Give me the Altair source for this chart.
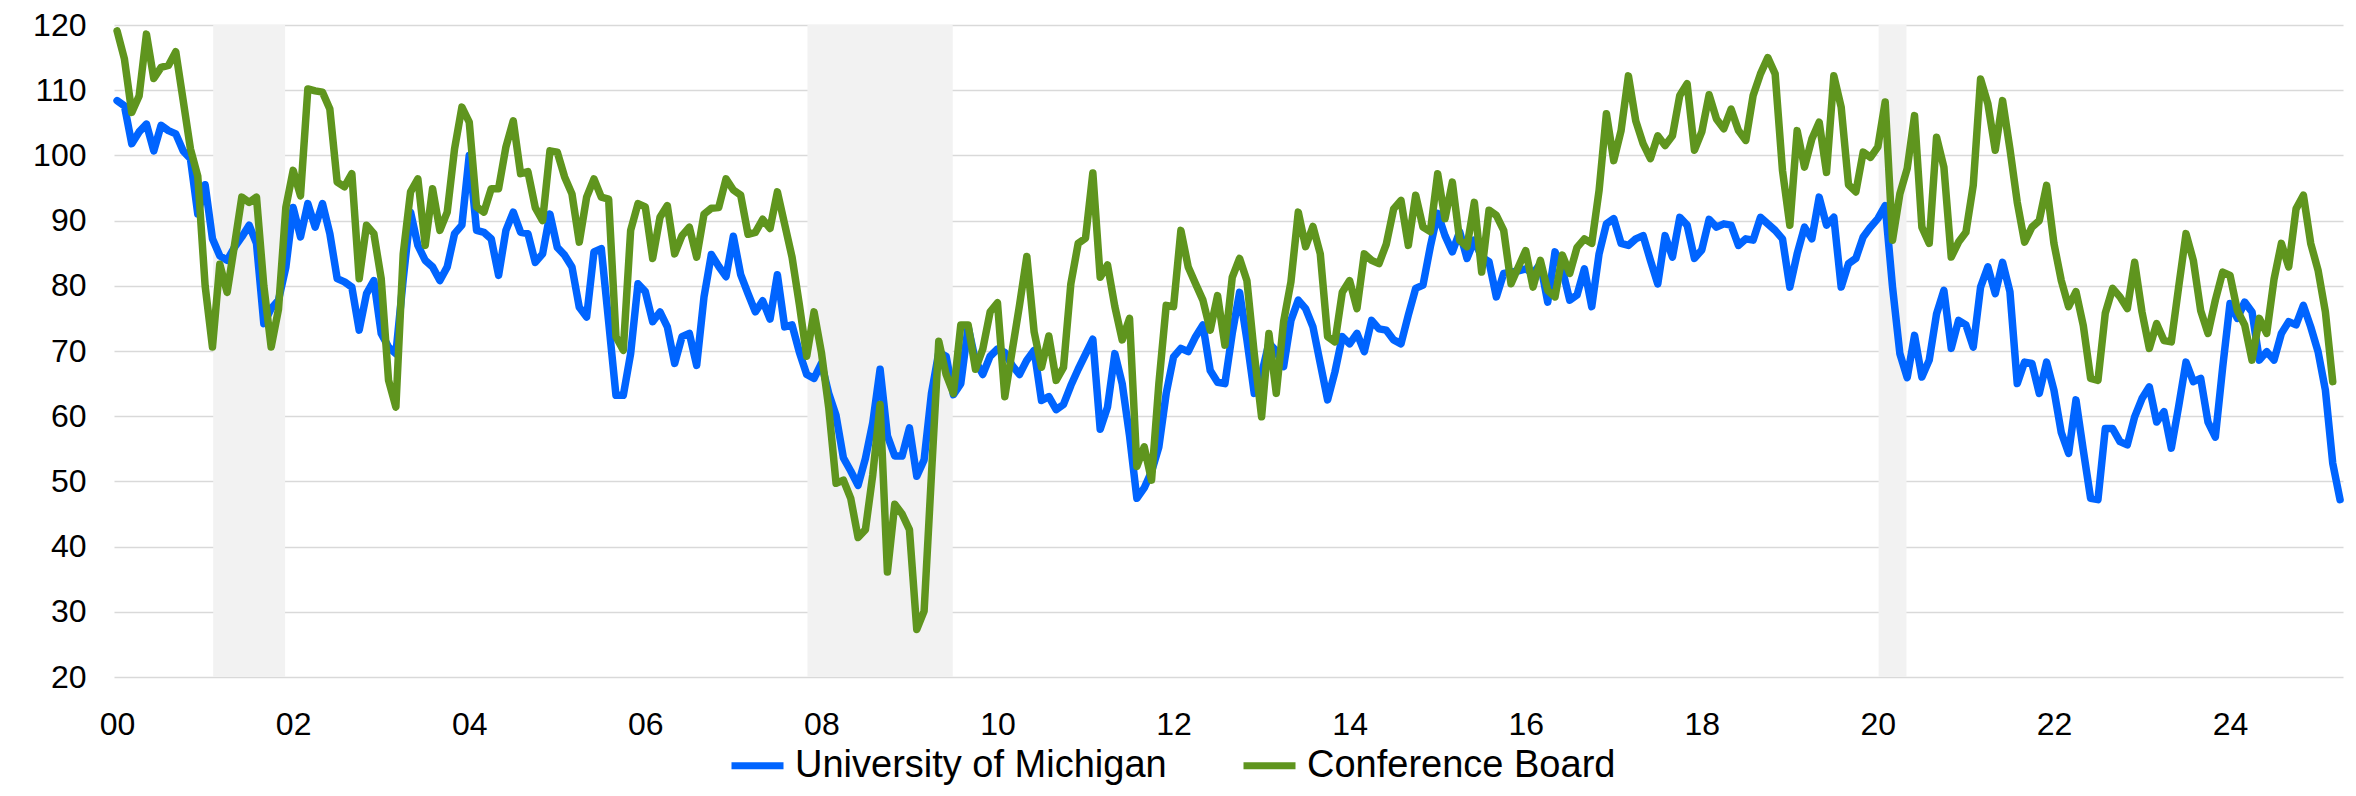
import altair as alt
import pandas as pd

START_YEAR = 2000

# Monthly values from Jan 2000
michigan = [
    108.4, 107.6, 101.8, 103.6, 104.8, 100.7, 104.6, 103.8, 103.3, 100.7, 99.5, 91.0,
    95.5, 87.2, 84.6, 83.9, 85.9, 87.5, 89.3, 86.5, 74.2, 76.5, 77.8, 82.8,
    92.0, 87.5, 92.6, 89.0, 92.6, 88.0, 81.1, 80.6, 79.8, 73.2, 78.8, 80.8,
    72.7, 70.6, 69.6, 81.0, 91.3, 86.2, 83.9, 82.9, 80.8, 82.9, 88.0, 89.3,
    100.0, 88.5, 88.2, 87.2, 81.6, 88.5, 91.3, 88.2, 88.0, 83.6, 84.9, 91.0,
    85.9, 84.7, 82.9, 76.7, 75.2, 85.2, 85.7, 74.5, 63.2, 63.2, 69.6, 80.3,
    79.1, 74.5, 76.0, 73.7, 68.1, 72.2, 72.7, 67.8, 78.3, 84.8, 83.0, 81.4,
    87.6, 81.7, 78.8, 76.0, 77.7, 74.9, 81.7, 73.7, 74.0, 69.8, 66.4, 65.8,
    68.1, 63.5, 60.1, 53.6, 51.6, 49.4, 53.5, 59.0, 67.2, 57.0, 53.9, 53.9,
    58.2, 50.8, 53.3, 63.5, 69.8, 69.2, 63.3, 65.0, 73.7, 68.5, 66.4, 69.2,
    70.3, 69.8, 67.8, 66.4, 68.6, 70.1, 62.4, 63.0, 61.0, 61.8, 64.7, 67.2,
    69.5, 71.8, 58.0, 61.4, 69.6, 65.0, 57.0, 47.4, 49.0, 51.5, 55.3, 63.5,
    69.1, 70.4, 69.9, 72.2, 74.0, 67.0, 65.2, 65.0, 72.7, 79.0, 71.7, 63.5,
    66.5, 71.2, 70.0, 67.6, 74.7, 77.8, 76.5, 73.7, 68.1, 62.5, 66.8, 72.2,
    71.1, 72.7, 69.9, 74.7, 73.4, 73.2, 71.7, 71.1, 75.5, 79.6, 80.1, 86.0,
    91.1, 87.7, 85.2, 88.3, 84.2, 87.0, 84.4, 83.7, 78.3, 81.9, 82.1, 82.3,
    82.6, 81.9, 83.4, 77.5, 85.2, 82.5, 77.8, 78.6, 82.6, 76.8, 84.9, 89.5,
    90.3, 86.5, 86.2, 87.2, 87.7, 83.9, 80.3, 87.7, 84.4, 90.5, 89.3, 84.2,
    85.5, 90.2, 89.0, 89.5, 89.3, 86.2, 87.2, 87.0, 90.5, 89.5, 88.5, 87.2,
    79.8, 84.9, 89.0, 87.2, 93.6, 89.3, 90.5, 79.8, 83.4, 84.2, 87.5, 89.0,
    90.3, 92.3, 79.8, 69.6, 65.9, 72.4, 66.0, 68.6, 75.7, 79.3, 70.4, 74.7,
    74.0, 70.6, 79.8, 82.9, 78.8, 83.6, 79.1, 65.0, 68.3, 68.1, 63.5, 68.3,
    64.0, 57.5, 54.3, 62.5, 54.8, 47.4, 47.2, 58.1, 58.1, 56.1, 55.6, 59.9,
    62.7, 64.5, 59.1, 60.7, 55.1, 61.5, 68.3, 65.3, 65.8, 59.1, 56.8, 67.5,
    77.3, 75.0, 77.5, 76.0, 68.6, 69.9, 68.6, 72.7, 74.5, 74.0, 77.0, 73.7,
    69.9, 64.0, 52.8, 47.2,
]

conference = [
    119.1, 114.8, 106.6, 109.1, 118.6, 111.8, 113.5, 113.8, 115.9, 108.5, 101.0, 96.8,
    80.0, 70.6, 83.3, 79.0, 86.2, 93.6, 92.8, 93.6, 80.0, 70.6, 76.4, 92.0,
    97.7, 93.8, 110.2, 109.9, 109.7, 107.1, 95.9, 95.2, 97.2, 81.1, 89.3, 88.0,
    81.1, 65.5, 61.4, 84.9, 94.4, 96.4, 86.2, 94.9, 88.5, 91.3, 101.0, 107.4,
    105.1, 92.1, 91.3, 94.9, 94.9, 101.3, 105.3, 97.2, 97.5, 92.0, 90.0, 100.7,
    100.5, 96.7, 94.1, 86.7, 93.6, 96.4, 93.6, 93.3, 72.2, 70.1, 88.5, 92.6,
    92.1, 84.2, 90.5, 92.3, 84.9, 87.7, 89.0, 84.4, 91.0, 91.9, 92.0, 96.4,
    94.7, 93.9, 87.9, 88.2, 90.2, 88.8, 94.4, 89.4, 84.4, 77.1, 69.2, 76.0,
    69.8, 61.3, 49.7, 50.2, 47.4, 41.4, 42.6, 51.0, 61.8, 36.1, 46.5, 45.0,
    42.6, 27.3, 30.1, 51.0, 71.5, 66.4, 63.5, 74.0, 74.0, 67.2, 70.3, 76.0,
    77.4, 63.0, 70.0, 77.0, 84.5, 72.9, 67.5, 72.3, 65.5, 67.5, 80.3, 86.5,
    87.3, 97.3, 81.3, 83.2, 76.8, 71.7, 75.0, 52.3, 55.3, 50.2, 65.0, 77.0,
    76.8, 88.5, 82.9, 80.3, 77.8, 73.2, 78.5, 70.9, 81.3, 84.2, 80.8, 69.6,
    59.9, 72.7, 63.5, 74.5, 80.6, 91.3, 86.0, 89.1, 84.9, 72.2, 71.4, 79.0,
    80.8, 76.5, 84.9, 83.9, 83.4, 86.4, 91.8, 93.1, 86.2, 93.9, 89.0, 88.3,
    97.2, 90.3, 95.9, 87.0, 86.0, 92.8, 82.1, 91.6, 90.8, 88.5, 80.3, 82.9,
    85.4, 79.8, 83.9, 79.3, 78.3, 84.7, 81.9, 85.9, 87.2, 86.5, 94.6, 106.4,
    99.2, 103.8, 112.2, 105.3, 101.8, 99.5, 103.0, 101.5, 103.0, 109.2, 111.0, 100.8,
    103.6, 109.3, 105.6, 104.1, 107.1, 103.8, 102.3, 109.2, 112.5, 115.0, 112.5, 97.7,
    89.3, 103.8, 98.2, 102.5, 105.1, 97.4, 112.2, 107.4, 95.5, 94.4, 100.5, 99.7,
    101.3, 108.2, 87.0, 94.1, 98.0, 106.1, 89.0, 86.5, 102.8, 98.2, 84.4, 86.7,
    88.2, 95.4, 111.7, 107.9, 100.8, 108.4, 101.0, 92.8, 86.7, 89.0, 90.0, 95.4,
    86.5, 80.8, 76.8, 79.1, 73.9, 65.8, 65.5, 75.8, 79.6, 78.3, 76.5, 83.6,
    76.0, 70.4, 74.2, 71.6, 71.4, 79.8, 88.0, 83.9, 76.2, 72.7, 77.8, 82.1,
    81.6, 76.2, 74.0, 68.6, 75.0, 72.7, 81.0, 86.5, 82.9, 91.8, 93.9, 86.5,
    82.4, 76.0, 65.3,
]

series_names = ["University of Michigan", "Conference Board"]
series_colors = ["#0064FF", "#5F951E"]

# NBER recessions (first and last month)
rec_start = ["2001-03", "2007-12", "2020-02"]
rec_end = ["2001-11", "2009-06", "2020-04"]

tick_years = list(range(2000, 2025, 2))
y_ticks = list(range(20, 121, 10))


def month_index(s):
    y, m = s.split("-")
    return (int(y) - START_YEAR) * 12 + int(m) - 1


rows = []
for name, vals in zip(series_names, [michigan, conference]):
    for i, v in enumerate(vals):
        rows.append({"m": i, "v": v, "series": name})
df = pd.DataFrame(rows)

rec = pd.DataFrame({
    "x0": [month_index(s) - 0.9 for s in rec_start],
    "x1": [month_index(e) + 0.9 for e in rec_end],
})

W, H = 2229, 652
FONT = "Liberation Sans"

xs = alt.Scale(domain=[-0.42, 303.4], nice=False, zero=False)
ys = alt.Scale(domain=[20, 120], nice=False, zero=False)

x_axis = alt.Axis(
    values=[(y - START_YEAR) * 12 for y in tick_years],
    labelExpr="format(datum.value / 12, '02d')",
    grid=False, ticks=False, domain=False,
    labelFont=FONT, labelFontSize=32, labelColor="#000000",
    labelPadding=32, labelFlush=False, labelOverlap=False, title=None,
)
y_axis = alt.Axis(
    values=y_ticks, grid=True, gridColor="#D9D9D9", gridWidth=1.5,
    ticks=False, domain=False,
    labelFont=FONT, labelFontSize=32, labelColor="#000000",
    labelPadding=28, labelFlush=False, labelOverlap=False, title=None,
)

color = alt.Color(
    "series:N",
    scale=alt.Scale(domain=series_names, range=series_colors),
    legend=alt.Legend(
        orient="none", legendX=614, legendY=711, direction="horizontal",
        title=None, labelFont=FONT, labelFontSize=38, labelColor="#000000",
        symbolType="stroke", symbolSize=2704, symbolStrokeWidth=7,
        labelLimit=2000, columnPadding=62, labelOffset=8,
    ),
)

bands = alt.Chart(rec).mark_rect(color="#F2F2F2").encode(
    x=alt.X("x0:Q", scale=xs, axis=x_axis),
    x2="x1:Q",
    y=alt.value(0),
    y2=alt.value(H),
)


def line_layer(name):
    return alt.Chart(df).transform_filter(
        alt.datum.series == name
    ).mark_line(strokeWidth=7.5, strokeJoin="round", strokeCap="round").encode(
        x=alt.X("m:Q", scale=xs, axis=x_axis),
        y=alt.Y("v:Q", scale=ys, axis=y_axis),
        color=color,
    )


chart = alt.layer(bands, line_layer(series_names[0]), line_layer(series_names[1])).properties(
    width=W, height=H,
    padding={"left": 106, "top": 17, "right": 5, "bottom": 111},
    autosize=alt.AutoSizeParams(type="none"),
    background="#FFFFFF",
).configure_view(strokeWidth=0)

chart.save("out.html", embed_options={"renderer": "svg", "actions": False})
